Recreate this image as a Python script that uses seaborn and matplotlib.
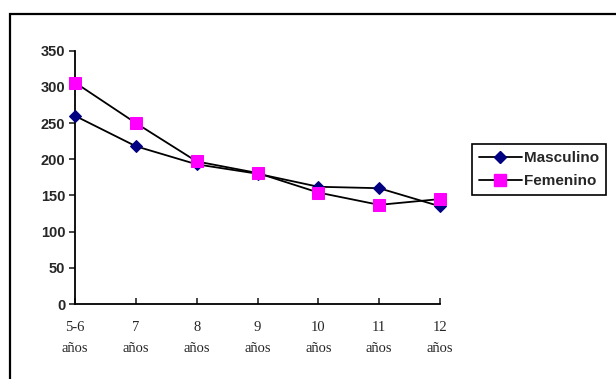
import matplotlib
matplotlib.use("Agg")
import matplotlib.pyplot as plt
import seaborn as sns
import pandas as pd
from matplotlib.lines import Line2D
from matplotlib.patches import Rectangle

categories = ["5-6\naños", "7\naños", "8\naños", "9\naños", "10\naños", "11\naños", "12\naños"]
masculino = [260, 218, 193, 180, 162, 160, 135]
femenino = [306, 250, 197, 181, 154, 137, 145]
yticks = [0, 50, 100, 150, 200, 250, 300, 350]

sns.set_style("white")
plt.rcParams['font.family'] = ['Liberation Sans', 'DejaVu Sans']

W, H = 616, 379
fig = plt.figure(figsize=(W / 100, H / 100), dpi=100)
ax = fig.add_axes([75 / W, 1 - 304 / H, (440 - 75) / W, (304 - 50.7) / H])

x = list(range(len(categories)))
df = pd.DataFrame({"x": x, "Masculino": masculino, "Femenino": femenino})

sns.lineplot(data=df, x="x", y="Masculino", ax=ax, color="black", lw=1.3,
             marker="D", markersize=6.5, markerfacecolor="#000080",
             markeredgecolor="#000080", zorder=3, clip_on=False)
sns.lineplot(data=df, x="x", y="Femenino", ax=ax, color="black", lw=1.3,
             marker="s", markersize=8.5, markerfacecolor="#FF00FF",
             markeredgecolor="#FF00FF", zorder=4, clip_on=False)

ax.set_xlim(0, len(categories) - 1)
ax.set_ylim(0, 350)
ax.set_yticks(yticks)
ax.set_yticklabels([str(v) for v in yticks], fontsize=10.5, fontweight="bold")
ax.set_xticks(x)
ax.set_xticklabels(categories, fontsize=10.5, family=["Liberation Serif"], linespacing=1.85)
ax.set_xlabel("")
ax.set_ylabel("")
for s in ["top", "right"]:
    ax.spines[s].set_visible(False)
for s in ["left", "bottom"]:
    ax.spines[s].set_color("black")
    ax.spines[s].set_linewidth(1.3)
ax.tick_params(axis="y", direction="out", length=4, width=1.2, pad=3, left=True)
ax.tick_params(axis="x", direction="in", length=4, width=1.2, pad=12, bottom=True)

handles = [
    Line2D([0], [0], color="black", lw=1.3, marker="D", markersize=6.5,
           markerfacecolor="#000080", markeredgecolor="#000080"),
    Line2D([0], [0], color="black", lw=1.3, marker="s", markersize=8.5,
           markerfacecolor="#FF00FF", markeredgecolor="#FF00FF"),
]
leg = fig.legend(handles, ["Masculino", "Femenino"], loc="upper left",
                 bbox_to_anchor=(472 / W, 1 - 144 / H), frameon=True,
                 fancybox=False, edgecolor="black", framealpha=1,
                 prop={"weight": "bold", "size": 11}, handlelength=2.8,
                 borderpad=0.45, labelspacing=0.6, handletextpad=0.15,
                 borderaxespad=0)
leg.get_frame().set_linewidth(1.2)

fig.patches.append(Rectangle((10 / W, -0.1), 1.2, 1 - 14 / H + 0.1,
                             transform=fig.transFigure, fill=False,
                             edgecolor="black", lw=1.6))

fig.savefig("out.png", dpi=100)
